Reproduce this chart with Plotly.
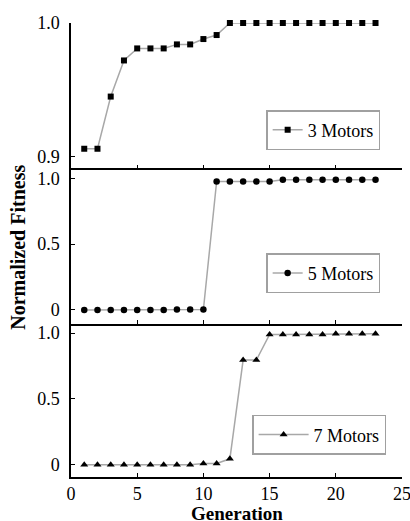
import plotly.graph_objects as go

generations = list(range(1, 24))
fit3 = [0.906, 0.906, 0.945, 0.972, 0.981, 0.981, 0.981, 0.984, 0.984, 0.988, 0.991,
        1.0, 1.0, 1.0, 1.0, 1.0, 1.0, 1.0, 1.0, 1.0, 1.0, 1.0, 1.0]
fit5 = [0.0, 0.0, 0.0, 0.0, 0.0, 0.0, 0.0, 0.003, 0.003, 0.003, 0.977,
        0.977, 0.977, 0.977, 0.977, 0.99, 0.99, 0.99, 0.99, 0.99, 0.99, 0.99, 0.99]
fit7 = [0.0, 0.0, 0.0, 0.0, 0.0, 0.0, 0.0, 0.0, 0.0, 0.01, 0.01, 0.045,
        0.795, 0.795, 0.99, 0.99, 0.99, 0.99, 0.99, 0.995, 0.995, 0.995, 0.995]
names = ["3 Motors", "5 Motors", "7 Motors"]
x_ticks = [0, 5, 10, 15, 20, 25]

FONT = "Liberation Serif"
LINE = "#a8a8a8"

fig = go.Figure()
series = [(fit3, "square", 6, "y", "x", "legend"),
          (fit5, "circle", 6.5, "y2", "x2", "legend2"),
          (fit7, "triangle-up", 7, "y3", "x3", "legend3")]
for (vals, sym, ms, ya, xa, lg), nm in zip(series, names):
    fig.add_trace(go.Scatter(
        x=generations, y=vals, mode="lines+markers", name=nm,
        line=dict(color=LINE, width=1.5),
        marker=dict(symbol=sym, size=ms, color="black"),
        cliponaxis=False,
        xaxis=xa, yaxis=ya, legend=lg, showlegend=True))

d3 = 0.3372
d2 = 0.6797
axis_common = dict(showline=True, linecolor="black", linewidth=1.5, ticks="inside",
                   ticklen=4, tickwidth=1.2, tickcolor="black", showgrid=False,
                   zeroline=False, automargin=False, ticklabeloverflow="allow",
                   tickfont=dict(family=FONT, size=18, color="black"))

fig.update_layout(
    width=410, height=521,
    margin=dict(l=71, r=8, t=23, b=44, autoexpand=False),
    paper_bgcolor="white", plot_bgcolor="white",
    font=dict(family=FONT, color="black"),
    xaxis=dict(domain=[0, 1], anchor="y", range=[0, 25], tickvals=x_ticks,
               showticklabels=False, **axis_common),
    xaxis2=dict(domain=[0, 1], anchor="y2", range=[0, 25], tickvals=x_ticks,
                showticklabels=False, **axis_common),
    xaxis3=dict(domain=[0, 1], anchor="y3", range=[0, 25], tickvals=x_ticks,
                ticktext=[str(v) for v in x_ticks], ticklabelstandoff=0, **axis_common),
    yaxis=dict(domain=[d2, 1], anchor="x", range=[0.8913, 1.0],
               tickvals=[0.9, 1.0], ticktext=["0.9", "1.0"], ticklabelstandoff=6,
               **axis_common),
    yaxis2=dict(domain=[d3, d2], anchor="x2", range=[-0.106, 1.076],
                tickvals=[0, 0.5, 1.0], ticktext=["0", "0.5", "1.0"], ticklabelstandoff=6,
                **axis_common),
    yaxis3=dict(domain=[0, d3], anchor="x3", range=[-0.093, 1.07],
                tickvals=[0, 0.5, 1.0], ticktext=["0", "0.5", "1.0"], ticklabelstandoff=6,
                **axis_common),
)

leg_common = dict(bgcolor="white", bordercolor="#a0a0a0", borderwidth=1.5,
                  font=dict(family=FONT, size=18, color="black"),
                  xanchor="right", yanchor="top", xref="paper", yref="paper")
fig.update_layout(
    legend=dict(x=0.934, y=0.808, **leg_common),
    legend2=dict(x=0.934, y=0.493, **leg_common),
    legend3=dict(x=0.952, y=0.137, itemwidth=50, **leg_common),
)

fig.add_annotation(text="<b>Normalized Fitness</b>", xref="paper", yref="paper",
                   x=-0.160, y=0.505, xanchor="center", yanchor="middle",
                   textangle=-90, showarrow=False,
                   font=dict(family=FONT, size=20, color="black"))
fig.add_annotation(text="<b>Generation</b>", xref="paper", yref="paper",
                   x=0.5, y=0, yshift=-36, yanchor="middle", showarrow=False,
                   font=dict(family=FONT, size=19, color="black"))

fig.write_html("out.html", config={"displayModeBar": False},
               post_script="document.body.style.margin='0';document.body.style.overflow='hidden';")
